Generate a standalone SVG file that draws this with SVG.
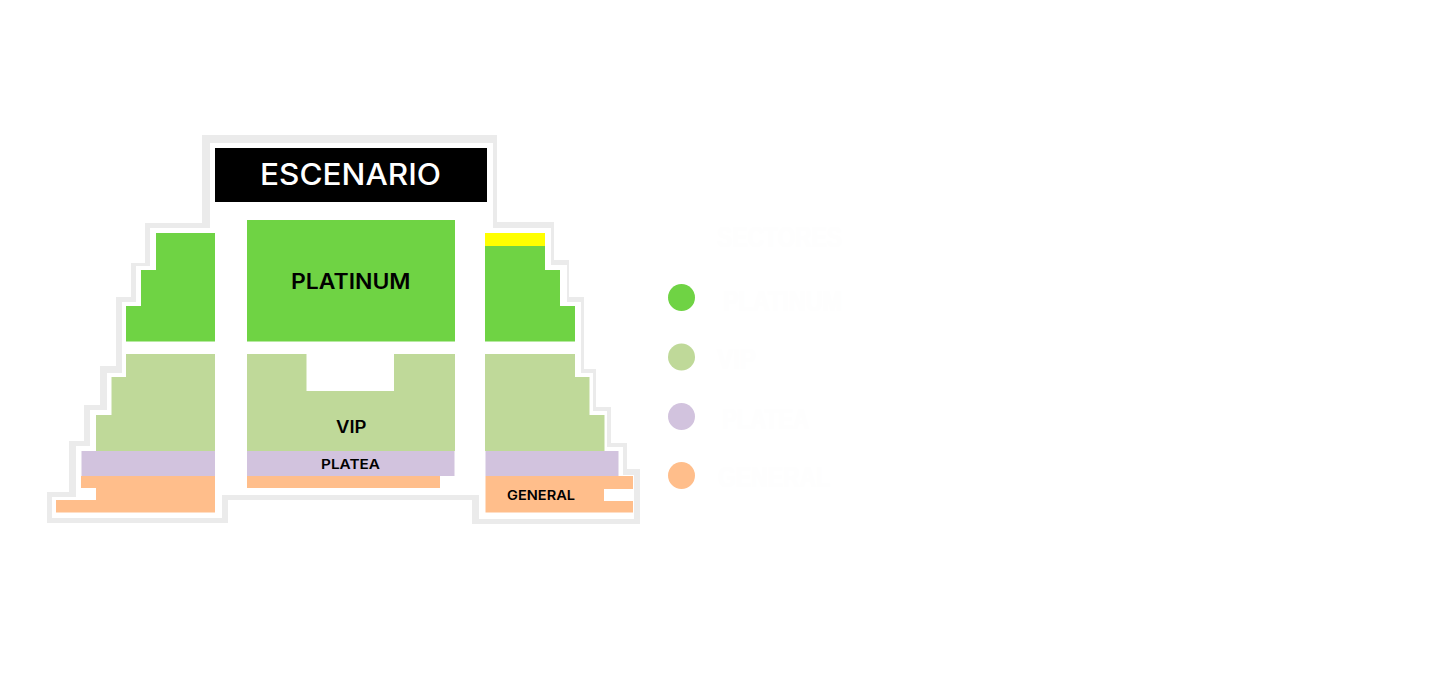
<svg xmlns="http://www.w3.org/2000/svg" width="1440" height="674" viewBox="0 0 1440 674">
<style>
.map{font-family:"Inter","Liberation Sans",sans-serif;font-weight:600;fill:#000;text-anchor:start}
.leg{font-family:"Liberation Sans",sans-serif;font-weight:700;fill:#fefefe;font-size:30px}
.plat{fill:#6fd344}.vip{fill:#bfd999}.pla{fill:#d2c3de}.gen{fill:#ffbe8b}
</style>
<rect width="1440" height="674" fill="#fff"/>
<g id="outline"><path fill="#ebebeb" fill-rule="evenodd" d="M202 135H497V222H554V260H569V297H584V369H596V407H611V443H627V469H640V524H472V500H228V523H47V492H69V441H84V405H100V366H116V297H131V263H145V223H202ZM210 143V228H150V266H136V302H122V373H107V410H90V446H76V497H52V518H222V495H479V519H634V475H623V447H607V411H593V373H581V302H567V265H551V228H493V143Z"/></g>
<g id="escenario"><rect x="215" y="148" width="272" height="54" fill="#000"/><text class="map" x="260" y="185" font-size="30" font-weight="500" textLength="181" lengthAdjust="spacingAndGlyphs" style="fill:#fff;font-weight:500">ESCENARIO</text></g>
<g id="platinum">
<path class="plat" d="M156 233H215V341.500H126V306H141V270H156Z"/>
<rect class="plat" x="247" y="220" width="208" height="121.500"/>
<path class="plat" d="M485 246H545V270H560V306H575V341.500H485Z"/>
<text class="map" x="291" y="288.500" font-size="21" textLength="119.500" lengthAdjust="spacingAndGlyphs">PLATINUM</text>
</g>
<g id="yellow"><rect x="485" y="233" width="60" height="13" fill="#ff0"/></g>
<g id="vip">
<path class="vip" d="M126 354H215V451H96V415H111.500V377H126Z"/>
<path class="vip" d="M247 354H306.500V391H394V354H455V451H247Z"/>
<path class="vip" d="M485 354H575V377H589.500V415H604.500V451H485Z"/>
<text class="map" x="336" y="432.500" font-size="17" textLength="30.500" lengthAdjust="spacingAndGlyphs">VIP</text>
</g>
<g id="platea">
<rect class="pla" x="81.500" y="451" width="133.500" height="25"/>
<rect class="pla" x="247" y="451" width="207.500" height="25"/>
<rect class="pla" x="485.500" y="451" width="133" height="25"/>
<text class="map" x="321" y="468.500" font-size="13" textLength="59" lengthAdjust="spacingAndGlyphs">PLATEA</text>
</g>
<g id="general">
<path class="gen" d="M81 476H215V512.500H56V500H96V488H81Z"/>
<rect class="gen" x="247" y="476" width="193" height="12"/>
<path class="gen" d="M485.500 476H633V489H604V501H633V512.500H485.500Z"/>
<text class="map" x="507" y="500" font-size="13" textLength="68" lengthAdjust="spacingAndGlyphs">GENERAL</text>
</g>
<g id="legend">
<circle class="plat" cx="681.500" cy="297.500" r="13.500"/>
<circle class="vip" cx="681.500" cy="357" r="13.500"/>
<circle class="pla" cx="681.500" cy="416.500" r="13.500"/>
<circle class="gen" cx="681.500" cy="475.500" r="13.500"/>
<text class="leg" x="717" y="247" textLength="125" lengthAdjust="spacingAndGlyphs">SECTORES</text>
<text class="leg" x="723" y="311" textLength="119" lengthAdjust="spacingAndGlyphs">PLATINUM</text>
<text class="leg" x="717" y="369" textLength="39" lengthAdjust="spacingAndGlyphs">VIP</text>
<text class="leg" x="722" y="429" textLength="87" lengthAdjust="spacingAndGlyphs">PLATEA</text>
<text class="leg" x="718" y="487" textLength="112" lengthAdjust="spacingAndGlyphs">GENERAL</text>
</g>
</svg>
